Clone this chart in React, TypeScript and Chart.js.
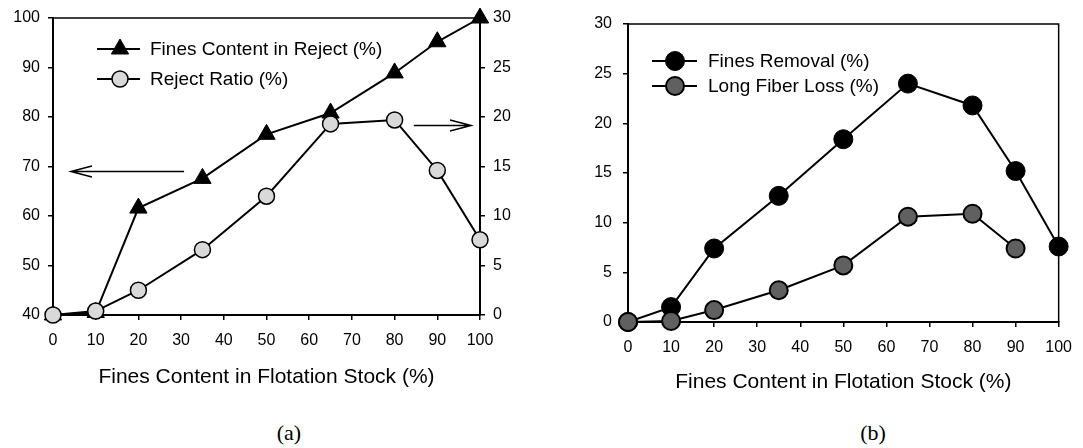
import React, { useEffect, useRef } from 'react';
import { Chart, registerables } from 'chart.js';

Chart.register(...registerables);

// ---------------- data ----------------
const xValues = [0, 10, 20, 35, 50, 65, 80, 90, 100];
const finesContentInReject = [40, 40.5, 61.6, 67.6, 76.5, 80.8, 88.9, 95.2, 100];
const rejectRatio = [0, 0.4, 2.5, 6.6, 12.0, 19.3, 19.7, 14.6, 7.6];
const finesRemoval = [0, 1.5, 7.4, 12.7, 18.4, 24.0, 21.8, 15.2, 7.6];
const longFiberLoss = [0, 0.1, 1.2, 3.2, 5.7, 10.6, 10.9, 7.4];

const xTitle = 'Fines Content in Flotation Stock (%)';
const legendA = ['Fines Content in Reject (%)', 'Reject Ratio (%)'];
const legendB = ['Fines Removal (%)', 'Long Fiber Loss (%)'];
const panelLabels = ['(a)', '(b)'];

// annotation arrows in panel (a): x from/to, y on left axis
const arrowsA = [
  { from: 30.7, to: 4.2, y: 69 },
  { from: 84.5, to: 97.9, y: 78.3 },
];

const FONT = 'Liberation Sans, Arial, sans-serif';

const toPoints = (vals: number[]) => vals.map((v, i) => ({ x: xValues[i], y: v }));

function drawMarker(ctx: CanvasRenderingContext2D, style: string, x: number, y: number, r: number, fill: string, bw: number) {
  ctx.save();
  ctx.beginPath();
  if (style === 'triangle') {
    ctx.moveTo(x, y - r);
    ctx.lineTo(x + 0.866 * r, y + 0.5 * r);
    ctx.lineTo(x - 0.866 * r, y + 0.5 * r);
    ctx.closePath();
  } else {
    ctx.arc(x, y, r, 0, Math.PI * 2);
  }
  ctx.fillStyle = fill;
  ctx.fill();
  ctx.lineWidth = bw;
  ctx.strokeStyle = '#000';
  ctx.stroke();
  ctx.restore();
}

type LegendItem = { text: string; style: string; r: number; fill: string; bw: number };

function legendPlugin(id: string, items: LegendItem[], x1: number, x2: number, mx: number, tx: number, ys: number[]) {
  return {
    id,
    afterDraw(chart: any) {
      const ctx = chart.ctx as CanvasRenderingContext2D;
      items.forEach((it, i) => {
        const y = ys[i];
        ctx.save();
        ctx.strokeStyle = '#000';
        ctx.lineWidth = 2;
        ctx.beginPath();
        ctx.moveTo(x1, y);
        ctx.lineTo(x2, y);
        ctx.stroke();
        ctx.restore();
        drawMarker(ctx, it.style, mx, y, it.r, it.fill, it.bw);
        ctx.save();
        ctx.fillStyle = '#000';
        ctx.font = '19px ' + FONT;
        ctx.textBaseline = 'middle';
        ctx.textAlign = 'left';
        ctx.fillText(it.text, tx, y + 1);
        ctx.restore();
      });
    },
  };
}

const framePlugin = {
  id: 'frame',
  beforeDatasetsDraw(chart: any) {
    const { ctx, chartArea } = chart;
    ctx.save();
    ctx.strokeStyle = '#000';
    ctx.lineWidth = 1.5;
    ctx.strokeRect(chartArea.left, chartArea.top, chartArea.right - chartArea.left, chartArea.bottom - chartArea.top);
    ctx.restore();
  },
};

const arrowPlugin = {
  id: 'arrows',
  afterDatasetsDraw(chart: any) {
    const ctx = chart.ctx as CanvasRenderingContext2D;
    const xs = chart.scales.x;
    const ys = chart.scales.y;
    arrowsA.forEach((a) => {
      const px1 = xs.getPixelForValue(a.from);
      const px2 = xs.getPixelForValue(a.to);
      const py = ys.getPixelForValue(a.y);
      const dir = px2 > px1 ? 1 : -1;
      ctx.save();
      ctx.strokeStyle = '#000';
      ctx.lineWidth = 1.5;
      ctx.beginPath();
      ctx.moveTo(px1, py);
      ctx.lineTo(px2, py);
      ctx.moveTo(px2 - dir * 21, py - 5.5);
      ctx.lineTo(px2, py);
      ctx.lineTo(px2 - dir * 21, py + 5.5);
      ctx.stroke();
      ctx.restore();
    });
  },
};

const tickFont = { family: FONT, size: 16 };
const gridOpts = { drawOnChartArea: false, drawTicks: true, tickLength: 5, color: '#000', lineWidth: 1.5 };
const borderOpts = { display: true, color: '#000', width: 2 };

function xScale(height: number, pad: number, titlePadBottom: number) {
  return {
    type: 'linear',
    min: 0,
    max: 100,
    ticks: { stepSize: 10, color: '#000', font: tickFont, padding: pad, maxRotation: 0, autoSkip: false },
    grid: gridOpts,
    border: borderOpts,
    title: { display: true, text: xTitle, color: '#000', font: { family: FONT, size: 21 }, padding: { top: 0, bottom: titlePadBottom } },
    afterFit: (s: any) => { s.height = height; },
  };
}

function PanelA() {
  const ref = useRef<HTMLCanvasElement>(null);
  useEffect(() => {
    const chart = new Chart(ref.current as HTMLCanvasElement, {
      type: 'line',
      data: {
        datasets: [
          {
            label: legendA[0],
            data: toPoints(finesContentInReject),
            yAxisID: 'y',
            borderColor: '#000',
            borderWidth: 2,
            pointStyle: 'triangle',
            pointRadius: 10,
            pointBackgroundColor: '#000',
            pointBorderColor: '#000',
            pointBorderWidth: 1,
            tension: 0,
            clip: false,
            order: 2,
          },
          {
            label: legendA[1],
            data: toPoints(rejectRatio),
            yAxisID: 'y1',
            borderColor: '#000',
            borderWidth: 2,
            pointStyle: 'circle',
            pointRadius: 8,
            pointBackgroundColor: '#d9d9d9',
            pointBorderColor: '#000',
            pointBorderWidth: 1.5,
            tension: 0,
            clip: false,
            order: 1,
          },
        ] as any,
      },
      options: {
        animation: false,
        responsive: false,
        maintainAspectRatio: false,
        layout: { padding: { top: 18, left: 0, right: 0, bottom: 0 } },
        plugins: { legend: { display: false }, tooltip: { enabled: false } },
        scales: {
          x: xScale(85, 11, 10),
          y: {
            position: 'left',
            min: 40,
            max: 100,
            ticks: { stepSize: 10, color: '#000', font: tickFont, padding: 8 },
            grid: gridOpts,
            border: borderOpts,
            afterFit: (s: any) => { s.width = 53; },
          },
          y1: {
            position: 'right',
            min: 0,
            max: 30,
            ticks: { stepSize: 5, color: '#000', font: tickFont, padding: 8 },
            grid: gridOpts,
            border: borderOpts,
            afterFit: (s: any) => { s.width = 60; },
          },
        } as any,
      },
      plugins: [
        framePlugin,
        arrowPlugin,
        legendPlugin('legendA', [
          { text: legendA[0], style: 'triangle', r: 10, fill: '#000', bw: 1 },
          { text: legendA[1], style: 'circle', r: 8, fill: '#d9d9d9', bw: 1.5 },
        ], 97, 140, 120, 150, [49, 79]),
      ],
    } as any);
    return () => chart.destroy();
  }, []);
  return <canvas ref={ref} width={540} height={400} style={{ position: 'absolute', left: 0, top: 0, width: 540, height: 400 }} />;
}

function PanelB() {
  const ref = useRef<HTMLCanvasElement>(null);
  useEffect(() => {
    const chart = new Chart(ref.current as HTMLCanvasElement, {
      type: 'line',
      data: {
        datasets: [
          {
            label: legendB[0],
            data: toPoints(finesRemoval),
            borderColor: '#000',
            borderWidth: 2,
            pointStyle: 'circle',
            pointRadius: 9.5,
            pointBackgroundColor: '#000',
            pointBorderColor: '#000',
            pointBorderWidth: 1,
            tension: 0,
            clip: false,
            order: 2,
          },
          {
            label: legendB[1],
            data: toPoints(longFiberLoss),
            borderColor: '#000',
            borderWidth: 2,
            pointStyle: 'circle',
            pointRadius: 9,
            pointBackgroundColor: '#606060',
            pointBorderColor: '#000',
            pointBorderWidth: 2,
            tension: 0,
            clip: false,
            order: 1,
          },
        ] as any,
      },
      options: {
        animation: false,
        responsive: false,
        maintainAspectRatio: false,
        layout: { padding: { top: 24, left: 0, right: 18, bottom: 0 } },
        plugins: { legend: { display: false }, tooltip: { enabled: false } },
        scales: {
          x: xScale(78, 11, 5),
          y: {
            position: 'left',
            min: 0,
            max: 30,
            ticks: { stepSize: 5, color: '#000', font: tickFont, padding: 11 },
            grid: gridOpts,
            border: borderOpts,
            afterFit: (s: any) => { s.width = 88; },
          },
        } as any,
      },
      plugins: [
        framePlugin,
        legendPlugin('legendB', [
          { text: legendB[0], style: 'circle', r: 9.5, fill: '#000', bw: 1 },
          { text: legendB[1], style: 'circle', r: 9, fill: '#606060', bw: 2 },
        ], 112, 157, 135, 168, [61, 86]),
      ],
    } as any);
    return () => chart.destroy();
  }, []);
  return <canvas ref={ref} width={543} height={400} style={{ position: 'absolute', left: 540, top: 0, width: 543, height: 400 }} />;
}

const labelStyle = (cx: number): React.CSSProperties => ({
  position: 'absolute',
  left: cx - 50,
  top: 420,
  width: 100,
  textAlign: 'center',
  fontFamily: '"Liberation Serif", "DejaVu Serif", serif',
  fontSize: 22,
  lineHeight: '26px',
  color: '#000',
});

export default function App() {
  return (
    <div style={{ position: 'absolute', left: 0, top: 0, width: 1083, height: 448, background: '#fff', overflow: 'hidden' }}>
      <PanelA />
      <PanelB />
      <div style={labelStyle(289)}>{panelLabels[0]}</div>
      <div style={labelStyle(873)}>{panelLabels[1]}</div>
    </div>
  );
}
